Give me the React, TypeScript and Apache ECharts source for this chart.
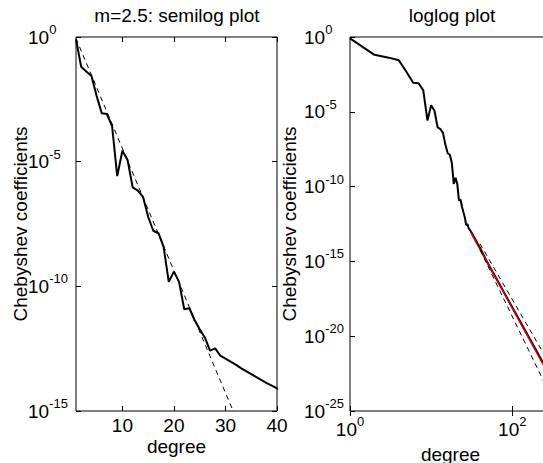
import React, { useEffect, useRef } from "react";
import * as echarts from "echarts";

// Chebyshev coefficient magnitudes, read as powers of ten
const degrees = [
  1, 2, 3, 4, 5, 6, 7, 8, 9, 10, 11, 12, 13, 14, 15, 16, 17, 18, 19, 20,
  21, 22, 23, 24, 25, 26, 27, 28, 29, 30, 31, 32, 33, 34, 35, 36, 37, 38, 39, 40,
];
const coeffExp = [
  -0.09, -1.19, -1.38, -1.56, -2.36, -3.06, -3.09, -3.57, -5.58, -4.56,
  -4.93, -6.03, -6.16, -6.41, -7.21, -7.77, -7.87, -8.42, -9.82, -9.41,
  -9.82, -10.92, -10.88, -11.35, -11.72, -12.05, -12.58, -12.49, -12.78, -12.9,
  -13.02, -13.14, -13.28, -13.4, -13.52, -13.64, -13.76, -13.88, -13.98, -14.09,
];
const tailDegrees = [50, 70, 100, 150, 200, 300];
const tailExp = [-15.13, -16.55, -18.07, -19.79, -21.01, -22.73];

// reference lines
const geoLineDegrees = [1, 32];
const geoLineExp = [-0.06, -15.25];
const algFitDegrees = [31, 300];
const algFitExp = [-13.1, -22.84];
const upperDegrees = [40, 300];
const upperExp = [-13.82, -22.01];
const lowerDegrees = [40, 300];
const lowerExp = [-14.23, -24.02];

// axes
const semilogXTicks = [10, 20, 30, 40];
const semilogXRange = [1, 40];
const semilogYTickExps = [0, -5, -10, -15];
const loglogXTickExps = [0, 2];
const loglogXRange = [1, 300];
const loglogYTickExps = [0, -5, -10, -15, -20, -25];

const FONT = '"Liberation Sans", Arial, Helvetica, sans-serif';
const FS = 19;

const pw = (e: number) => Math.pow(10, e);
const pairs = (xs: number[], es: number[]) => xs.map((x, i) => [x, pw(es[i])]);

const supLabel = (v: number) => {
  const e = Math.log10(v);
  const r = Math.round(e);
  if (!isFinite(e) || Math.abs(e - r) > 1e-6) return "";
  return `{b|10}{s|${r}}`;
};

const rich = {
  b: { fontSize: FS, fontFamily: FONT, color: "#000", lineHeight: 28 },
  s: { fontSize: 13, fontFamily: FONT, color: "#000", lineHeight: 15, verticalAlign: "top" },
};

export default function App() {
  const ref = useRef<HTMLDivElement>(null);
  useEffect(() => {
    if (!ref.current) return;
    const chart = echarts.init(ref.current, undefined, { renderer: "svg" });
    const allDeg = degrees.concat(tailDegrees);
    const allExp = coeffExp.concat(tailExp);
    const data = pairs(allDeg, allExp);
    const tick = { show: true, inside: true, length: 5, lineStyle: { color: "#000", width: 1 } };
    const noLine = { show: false };
    const nameStyle = { fontSize: FS, fontFamily: FONT, color: "#000" };
    const semiY = semilogYTickExps.map(pw);
    const logY = loglogYTickExps.map(pw);
    const logX = loglogXTickExps.map(pw);
    const grids = [
      { left: 76, top: 37, width: 201, height: 374 },
      { left: 350, top: 37, width: 201, height: 374 },
    ].map((g) => ({
      ...g,
      show: true,
      borderColor: "#000",
      borderWidth: 1,
      backgroundColor: "transparent",
      containLabel: false,
      outerBoundsMode: "none",
    }));
    const titleStyle = (text: string) => ({
      text,
      fontSize: FS,
      fontFamily: FONT,
      fill: "#000",
      align: "center",
      verticalAlign: "middle",
      textAlign: "center",
      textVerticalAlign: "middle",
    });
    const logAxis = (gridIndex: number, lo: number, hi: number, interval: number, ticks: number[]) => ({
      gridIndex,
      type: "log",
      logBase: 10,
      min: lo,
      max: hi,
      interval,
      axisLine: noLine,
      splitLine: { show: false },
      axisTick: { ...tick, customValues: ticks },
      nameMoveOverlap: false,
    });

    const option: any = {
      animation: false,
      backgroundColor: "#fff",
      grid: grids,
      graphic: [
        { type: "text", x: 177, y: 15, style: titleStyle("m=2.5: semilog plot") },
        { type: "text", x: 452, y: 15, style: titleStyle("loglog plot") },
      ],
      xAxis: [
        {
          gridIndex: 0,
          type: "value",
          min: semilogXRange[0],
          max: semilogXRange[1],
          position: "bottom",
          axisLine: noLine,
          splitLine: { show: false },
          axisTick: { ...tick, customValues: semilogXTicks },
          axisLabel: {
            customValues: semilogXTicks,
            fontSize: FS,
            fontFamily: FONT,
            color: "#000",
            margin: 4,
            lineHeight: 20,
          },
          name: "degree",
          nameLocation: "middle",
          nameGap: 25,
          nameMoveOverlap: false,
          nameTextStyle: { ...nameStyle, lineHeight: 20 },
        },
        {
          ...logAxis(1, loglogXRange[0], loglogXRange[1], 2, logX),
          position: "bottom",
          axisLabel: { customValues: logX, formatter: supLabel, rich, margin: 4 },
          name: "degree",
          nameLocation: "middle",
          nameGap: 33,
          nameTextStyle: { ...nameStyle, lineHeight: 20 },
        },
        {
          gridIndex: 0,
          type: "value",
          min: semilogXRange[0],
          max: semilogXRange[1],
          position: "top",
          axisLine: noLine,
          splitLine: { show: false },
          axisTick: { ...tick, customValues: semilogXTicks },
          axisLabel: { show: false },
        },
        {
          ...logAxis(1, loglogXRange[0], loglogXRange[1], 2, logX),
          position: "top",
          axisLabel: { show: false },
        },
      ],
      yAxis: [
        {
          ...logAxis(0, semiY[semiY.length - 1], semiY[0], 5, semiY),
          position: "left",
          axisLabel: { customValues: semiY, formatter: supLabel, rich, align: "left", margin: 48 },
          name: "Chebyshev coefficients",
          nameLocation: "middle",
          nameGap: 46,
          nameTextStyle: nameStyle,
        },
        {
          ...logAxis(1, logY[logY.length - 1], logY[0], 5, logY),
          position: "left",
          axisLabel: { customValues: logY, formatter: supLabel, rich, align: "left", margin: 46 },
          name: "Chebyshev coefficients",
          nameLocation: "middle",
          nameGap: 51,
          nameTextStyle: nameStyle,
        },
        {
          ...logAxis(0, semiY[semiY.length - 1], semiY[0], 5, semiY),
          position: "right",
          axisLabel: { show: false },
        },
        {
          ...logAxis(1, logY[logY.length - 1], logY[0], 5, logY),
          position: "right",
          axisLabel: { show: false },
        },
      ],
      series: [
        {
          type: "line",
          xAxisIndex: 0,
          yAxisIndex: 0,
          data: pairs(geoLineDegrees, geoLineExp),
          symbol: "none",
          lineStyle: { color: "#000", width: 1, type: [5, 4] },
          silent: true,
        },
        {
          type: "line",
          xAxisIndex: 0,
          yAxisIndex: 0,
          data,
          symbol: "none",
          lineStyle: { color: "#000", width: 2 },
        },
        {
          type: "line",
          xAxisIndex: 1,
          yAxisIndex: 1,
          data,
          symbol: "none",
          lineStyle: { color: "#000", width: 2 },
        },
        {
          type: "line",
          xAxisIndex: 1,
          yAxisIndex: 1,
          data: pairs(algFitDegrees, algFitExp),
          symbol: "none",
          lineStyle: { color: "#d40000", width: 1.5 },
        },
        {
          type: "line",
          xAxisIndex: 1,
          yAxisIndex: 1,
          data: pairs(upperDegrees, upperExp),
          symbol: "none",
          lineStyle: { color: "#000", width: 1, type: [5, 4] },
        },
        {
          type: "line",
          xAxisIndex: 1,
          yAxisIndex: 1,
          data: pairs(lowerDegrees, lowerExp),
          symbol: "none",
          lineStyle: { color: "#000", width: 1, type: [5, 4] },
        },
      ],
    };
    chart.setOption(option);
    return () => chart.dispose();
  }, []);
  return (
    <div style={{ position: "absolute", left: 0, top: 0, width: 543, height: 463, overflow: "hidden" }}>
      <div ref={ref} style={{ width: 560, height: 463 }} />
    </div>
  );
}
